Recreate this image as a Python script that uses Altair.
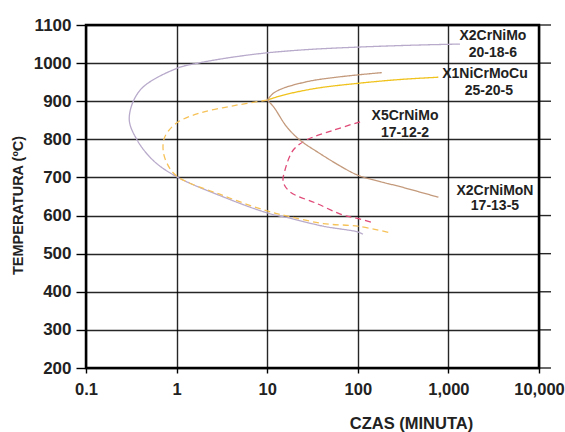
import altair as alt
import pandas as pd

# ---- data ----
# X2CrNiMo 20-18-6 (single C-curve, lower end -> upper end)
lav_t = [114, 100, 41.6, 17.9, 10, 3.27, 1, 0.55, 0.363, 0.30, 0.395, 1, 1.81, 4, 10, 30, 100, 400, 1343]
lav_T = [551, 557, 572, 593, 607, 649, 702, 745, 800, 855, 929, 986, 1001, 1015, 1027, 1036, 1042, 1047, 1050]

# X1NiCrMoCu 25-20-5 upper (solid) and lower C-branch (dashed)
yel_up_t = [10, 15, 35, 101, 292, 775]
yel_up_T = [903, 916, 934, 947, 957, 963]
yel_lo_t = [10, 4.2, 1.81, 1, 0.74, 0.71, 0.78, 1, 3.3, 10, 17.9, 41.6, 100, 226]
yel_lo_T = [903, 888, 869, 843, 806, 772, 738, 704, 652, 612, 597, 579, 572, 555]

# X5CrNiMo 17-12-2 (dashed)
red_t = [106, 54, 27, 19.4, 15.7, 15, 17.9, 35, 69, 97, 148]
red_T = [846, 824, 798, 772, 719, 689, 662, 632, 601, 593, 581]

# X2CrNiMoN 17-13-5 upper and lower branches
brn_up_t = [10, 11.7, 15, 23, 35, 82, 184]
brn_up_T = [903, 921, 934, 947, 956, 967, 975]
brn_lo_t = [10, 11.7, 16.4, 23, 38, 64, 100, 176, 292, 775]
brn_lo_T = [903, 886, 833, 798, 763, 730, 706, 689, 676, 648]

# curve labels
lab_text = ["X2CrNiMo", "20-18-6", "X1NiCrMoCu", "25-20-5", "X5CrNiMo", "17-12-2", "X2CrNiMoN", "17-13-5"]
lab_t = [3100, 3100, 2535, 2800, 332, 332, 3265, 3265]
lab_T = [1070, 1026, 972, 927, 862, 817, 665, 626]

x_ticks = [0.1, 1, 10, 100, 1000, 10000]
y_ticks = [200, 300, 400, 500, 600, 700, 800, 900, 1000, 1100]

segs = ["lav", "yel_up", "yel_lo", "red", "brn_up", "brn_lo"]
seg_colors = ["#b8aacb", "#f0c21c", "#f6c258", "#e04a78", "#c49a7c", "#c49a7c"]
seg_dash = [[1, 0], [1, 0], [6, 4], [6, 4], [1, 0], [1, 0]]

rows = []
for name, ts, Ts in [("lav", lav_t, lav_T), ("yel_up", yel_up_t, yel_up_T),
                     ("yel_lo", yel_lo_t, yel_lo_T), ("red", red_t, red_T),
                     ("brn_up", brn_up_t, brn_up_T), ("brn_lo", brn_lo_t, brn_lo_T)]:
    for i, (t, T) in enumerate(zip(ts, Ts)):
        rows.append({"seg": name, "i": i, "t": t, "T": T})
df = pd.DataFrame(rows)
labels = pd.DataFrame({"text": lab_text, "t": lab_t, "T": lab_T})
yt = pd.DataFrame({"T": y_ticks})

FONT = "Liberation Sans"

xscale = alt.Scale(type="log", domain=[0.1, 10000], nice=False)
yscale = alt.Scale(domain=[200, 1100], nice=False, zero=False)

x_axis = alt.Axis(values=x_ticks, format=",", title="CZAS (MINUTA)",
                  grid=True, gridColor="#000", gridWidth=1.4, gridOpacity=0.85,
                  tickColor="#000", tickSize=5, tickWidth=1.4, domain=False,
                  labelFont=FONT, labelFontSize=16.5, labelFontWeight="bold",
                  labelColor="#222", labelPadding=8, labelFlush=False, labelOverlap=False,
                  titleFont=FONT, titleFontSize=16.5, titleFontWeight="bold",
                  titleColor="#222", titleX=325, titleY=55,
                  titleAlign="center", titleBaseline="middle")
y_axis = alt.Axis(values=y_ticks, format="d", title="TEMPERATURA (ºC)",
                  grid=True, gridColor="#000", gridWidth=1.4, gridOpacity=0.85,
                  tickColor="#000", tickSize=10, tickWidth=1.4, domain=False,
                  labelFont=FONT, labelFontSize=17, labelFontWeight="bold",
                  labelColor="#222", labelPadding=5, labelFlush=False, labelOverlap=False,
                  titleFont=FONT, titleFontSize=14.5, titleFontWeight="bold",
                  titleColor="#222", titleAngle=-90, titleX=-68, titleY=180,
                  titleAlign="center", titleBaseline="middle")

lines = alt.Chart(df).mark_line(strokeWidth=1.3, interpolate="catmull-rom").encode(
    x=alt.X("t:Q", scale=xscale, axis=x_axis),
    y=alt.Y("T:Q", scale=yscale, axis=y_axis),
    color=alt.Color("seg:N", scale=alt.Scale(domain=segs, range=seg_colors), legend=None),
    strokeDash=alt.StrokeDash("seg:N", scale=alt.Scale(domain=segs, range=seg_dash), legend=None),
    detail="seg:N",
    order="i:Q",
)

# short extensions of the horizontal grid lines to the right of the frame
right_ticks = alt.Chart(yt).mark_rule(color="#000", strokeWidth=1.4, opacity=0.85).encode(
    x=alt.value(453), x2=alt.value(465),
    y=alt.Y("T:Q", scale=yscale, axis=y_axis),
)

texts = alt.Chart(labels).mark_text(font=FONT, fontSize=14, fontWeight="bold",
                                    color="#222", align="center", baseline="middle").encode(
    x=alt.X("t:Q", scale=xscale, axis=x_axis),
    y=alt.Y("T:Q", scale=yscale, axis=y_axis),
    text="text:N",
)

chart = alt.layer(lines, right_ticks, texts).properties(
    width=453, height=343,
    autosize=alt.AutoSizeParams(type="none"),
    padding={"left": 86, "top": 25, "right": 26, "bottom": 64},
    background="white",
).configure_view(stroke="#000", strokeWidth=2.5)

chart.save("out.html", embed_options={"renderer": "svg", "actions": False})
